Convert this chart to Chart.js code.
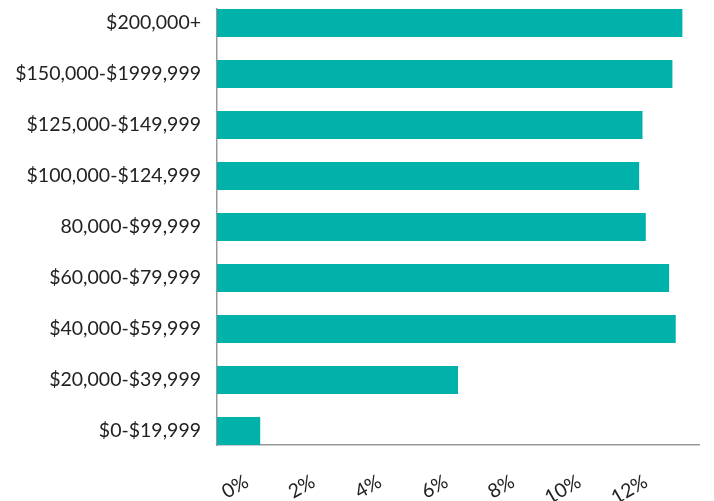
<!DOCTYPE html>
<html>
<head>
<meta charset="utf-8">
<script src="https://cdn.jsdelivr.net/npm/chart.js@4"></script>
<style>
    html, body { margin: 0; padding: 0; background: #fff; }
    #wrap { width: 714px; height: 501px; }
</style>
</head>
<body>
<div id="wrap"><canvas id="grafik-pendapatan"></canvas></div>
<script>
// income brackets, top to bottom
const kategori = [
    "$200,000+",
    "$150,000-$1999,999",
    "$125,000-$149,999",
    "$100,000-$124,999",
    "80,000-$99,999",
    "$60,000-$79,999",
    "$40,000-$59,999",
    "$20,000-$39,999",
    "$0-$19,999",
];
const persen = [14.0, 13.7, 12.8, 12.7, 12.9, 13.6, 13.8, 7.25, 1.3];
const tickPersen = [0, 2, 4, 6, 8, 10, 12];

const warnaTeks = "#222";
const fontLabel = { family: "Lato", size: 19.5 };

const dataPendapatan = {
    type: "bar",
    data: {
        datasets: [
            {
                label: "Pendapatan",
                data: persen.map((v, i) => ({ x: v, y: i })),
                backgroundColor: "#00b2a9",
                barPercentage: 0.55,
                categoryPercentage: 1,
            },
        ],
    },
    options: {
        indexAxis: "y",
        responsive: true,
        maintainAspectRatio: false,
        animation: false,
        layout: { padding: { top: 9, right: 15, left: 0, bottom: 0 } },
        plugins: {
            legend: { display: false },
            tooltip: { enabled: false },
        },
        scales: {
            x: {
                type: "linear",
                min: 0,
                max: 14.5,
                grid: { display: false, tickLength: 0 },
                border: { color: "#999", width: 1.5 },
                afterBuildTicks: (axis) => {
                    axis.ticks = tickPersen.map((v) => ({ value: v }));
                },
                afterFit: (scale) => {
                    scale.height = 56;
                    scale.paddingLeft = 0;
                    scale.paddingRight = 0;
                },
                ticks: {
                    color: warnaTeks,
                    font: fontLabel,
                    minRotation: 30,
                    maxRotation: 30,
                    padding: 25,
                    labelOffset: 30,
                    callback: (v) => v + "%",
                },
            },
            y: {
                type: "linear",
                reverse: true,
                offset: false,
                min: -0.2745,
                max: 8.2745,
                grid: { display: false, tickLength: 0 },
                border: { color: "#999", width: 1.5 },
                afterFit: (scale) => {
                    scale.width = 217;
                    scale.paddingTop = 0;
                    scale.paddingBottom = 0;
                },
                ticks: {
                    stepSize: 1,
                    includeBounds: false,
                    autoSkip: false,
                    color: warnaTeks,
                    font: fontLabel,
                    padding: 16,
                    callback: (v) => kategori[v] ?? "",
                },
            },
        },
    },
};

new Chart(document.getElementById("grafik-pendapatan"), dataPendapatan);
</script>
</body>
</html>
